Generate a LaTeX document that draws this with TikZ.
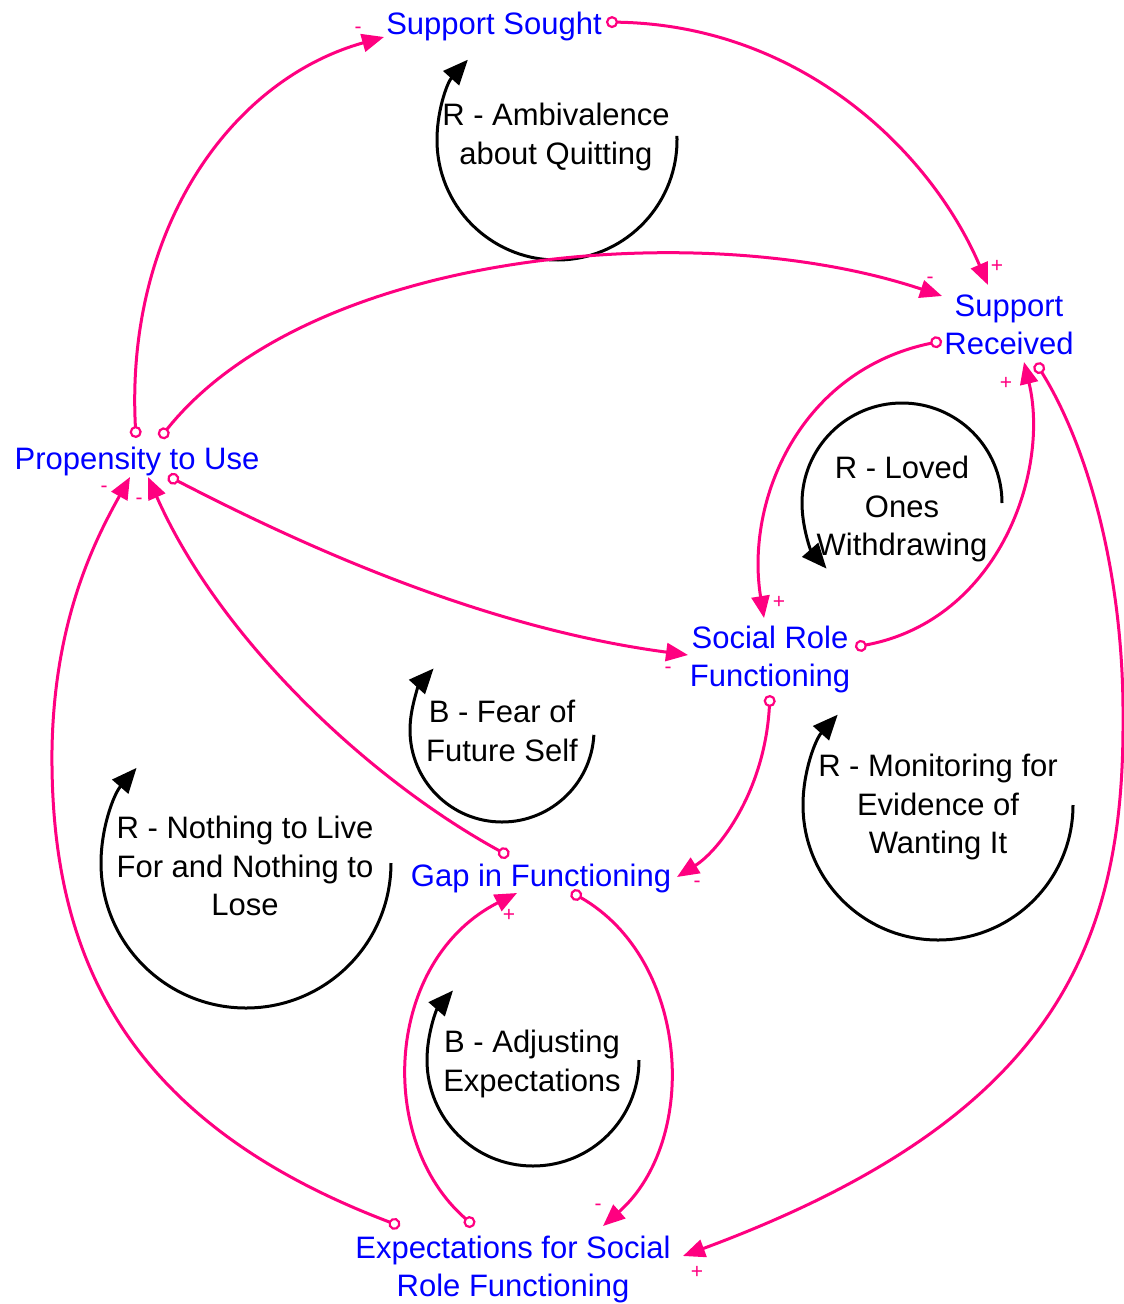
\documentclass[tikz,border=0pt]{standalone}
\usepackage{fontspec}
\setmainfont{Liberation Sans}
\usetikzlibrary{arrows.meta,calc}
\definecolor{lnk}{RGB}{255,0,128}
\definecolor{varblue}{RGB}{0,0,255}
\begin{document}
\begin{tikzpicture}[x=1pt,y=1pt,yscale=-1,
  var/.style={text=varblue,font=\fontsize{31}{38}\selectfont,align=center,inner sep=0pt},
  looplbl/.style={text=black,font=\fontsize{31}{38.5}\selectfont,align=center,inner sep=0pt},
  sgn/.style={text=lnk,font=\fontsize{21}{21}\selectfont,inner sep=0pt},
  link/.style={draw=lnk,line width=3pt,{Circle[open,fill=white,length=12pt,width=12pt,line width=2.2pt]}-{Triangle[length=22pt,width=18pt]}},
  loopar/.style={draw=black,line width=3pt,-{Triangle[length=25pt,width=21pt]}}]
\useasboundingbox (0,0) rectangle (1124,1304);

% variables
\node[var] (ss) at (494,26) {Support Sought};
\node[var] (sr) at (1009,325) {Support\\Received};
\node[var] (ptu) at (137,461) {Propensity to Use};
\node[var] (srf) at (770,659) {Social Role\\Functioning};
\node[var] (gap) at (541,878) {Gap in Functioning};
\node[var] (exp) at (513,1269) {Expectations for Social\\Role Functioning};

% loop labels
\node[looplbl] (l1) at (556,137) {R - Ambivalence\\about Quitting};
\node[looplbl] (l2) at (902,509) {R - Loved\\Ones\\Withdrawing};
\node[looplbl] (l3) at (502,731) {B - Fear of\\Future Self};
\node[looplbl] (l4) at (938,807) {R - Monitoring for\\Evidence of\\Wanting It};
\node[looplbl] (l5) at (245,866) {R - Nothing to Live\\For and Nothing to\\Lose};
\node[looplbl] (l6) at (532,1064) {B - Adjusting\\Expectations};

% loop arrows
\draw[loopar] (557,140) ++(-2:120) arc[start angle=-2, end angle=222, radius=120];
\draw[loopar] (902,503) ++(0:100) arc[start angle=0, end angle=-221, radius=100];
\draw[loopar] (502,730) ++(3:92) arc[start angle=3, end angle=222, radius=92];
\draw[loopar] (938,805) ++(0:135) arc[start angle=0, end angle=222, radius=135];
\draw[loopar] (246,863) ++(0:145) arc[start angle=0, end angle=221, radius=145];
\draw[loopar] (533,1060) ++(0:106) arc[start angle=0, end angle=221, radius=106];

% causal links
\draw[link] ($(ptu)+(-1,-23)$) .. controls (125,230) and (230,80) .. ($(ss)+(-110,11)$);
\draw[link] ($(ptu)+(23,-23)$) .. controls (310,250) and (700,215) .. ($(sr)+(-67,-29)$);
\draw[link] ($(ss)+(112,-4)$) .. controls (800,25) and (930,150) .. ($(sr)+(-21,-40)$);
\draw[link] ($(sr)+(-67,16)$) .. controls (800,370) and (745,500) .. ($(srf)+(-6,-41)$);
\draw[link] ($(srf)+(85,-12)$) .. controls (1000,620) and (1050,470) .. ($(sr)+(15,37)$);
\draw[link] ($(sr)+(27,38)$) .. controls (1090,450) and (1124,580) .. (1123,720) .. controls (1124,950) and (1050,1120) .. ($(exp)+(170,-13)$);
\draw[link] ($(ptu)+(31,15)$) .. controls (330,560) and (500,630) .. ($(srf)+(-82,-4)$);
\draw[link] ($(srf)+(0,36)$) .. controls (765,790) and (720,850) .. ($(gap)+(136,-1)$);
\draw[link] ($(gap)+(-32,-22)$) .. controls (370,780) and (220,640) .. ($(ptu)+(11,16)$);
\draw[link] ($(exp)+(-113,-43)$) .. controls (120,1120) and (50,950) .. (52,750) .. controls (54,620) and (95,540) .. ($(ptu)+(-7,16)$);
\draw[link] ($(gap)+(30,14)$) .. controls (690,960) and (700,1140) .. ($(exp)+(90,-43)$);
\draw[link] ($(exp)+(-39,-43)$) .. controls (375,1140) and (385,960) .. ($(gap)+(-24,15)$);

% polarity signs
\node[sgn] (s1) at (358,30) {-};
\node[sgn] (s2) at (997,266) {+};
\node[sgn] (s3) at (930,280) {-};
\node[sgn] (s4) at (1006,383) {+};
\node[sgn] (s5) at (779,602) {+};
\node[sgn] (s6) at (668,670) {-};
\node[sgn] (s7) at (104,489) {-};
\node[sgn] (s8) at (139,501) {-};
\node[sgn] (s9) at (697,884) {-};
\node[sgn] (s10) at (509,915) {+};
\node[sgn] (s11) at (598,1207) {-};
\node[sgn] (s12) at (697,1272) {+};
\end{tikzpicture}
\end{document}
